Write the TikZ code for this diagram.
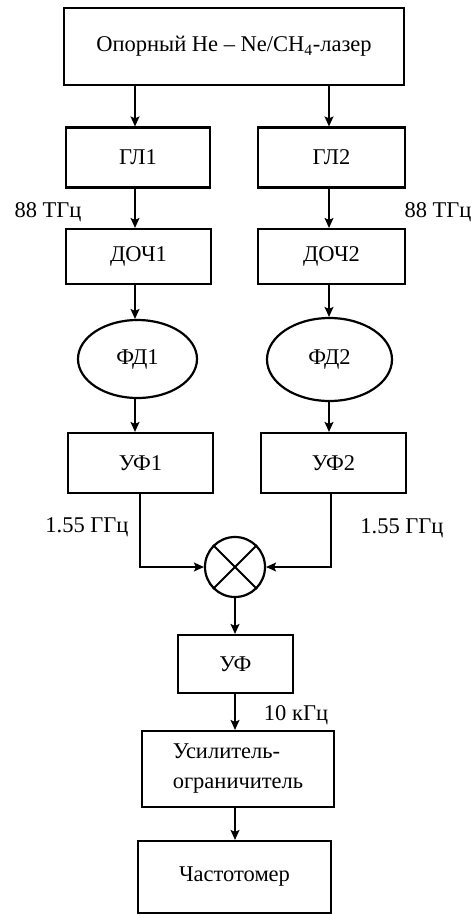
\documentclass[tikz,border=0pt]{standalone}
\usepackage{fontspec}
\setmainfont{Liberation Serif}
\usetikzlibrary{arrows.meta,shapes.geometric}
\begin{document}
\begin{tikzpicture}[x=1pt,y=-1pt,
  font=\rmfamily\fontsize{22.5}{30}\selectfont,
  blk/.style={draw,line width=2.2pt,rectangle,inner sep=0pt,anchor=center},
  ell/.style={draw,line width=2.2pt,ellipse,inner sep=0pt},
  arr/.style={line width=1.3pt,-{Stealth[length=10pt,width=9pt,inset=2pt]}},
  lin/.style={line width=1.3pt},
  lbl/.style={inner sep=0pt,anchor=center}]
\useasboundingbox (0,0) rectangle (476,916);
% boxes
\node[blk,minimum width=340pt,minimum height=77pt] (top) at (234,46.5) {Опорный He -- Ne/CH\textsubscript{4}-лазер};
\node[blk,minimum width=144pt,minimum height=60pt] (gl1) at (138,157.5) {ГЛ1};
\node[blk,minimum width=147pt,minimum height=60pt] (gl2) at (331.5,157.5) {ГЛ2};
\node[blk,minimum width=145pt,minimum height=55pt] (doch1) at (138.5,256.5) {ДОЧ1};
\node[blk,minimum width=147pt,minimum height=55pt] (doch2) at (331.5,256.5) {ДОЧ2};
\node[ell,minimum width=119pt,minimum height=78pt] (fd1) at (137.5,359) {ФД1};
\node[ell,minimum width=125pt,minimum height=83pt] (fd2) at (329.5,359.5) {ФД2};
\node[blk,minimum width=145pt,minimum height=60pt] (uf1) at (140.5,463) {УФ1};
\node[blk,minimum width=145pt,minimum height=60pt] (uf2) at (333.5,463) {УФ2};
\node[draw,circle,line width=2.2pt,minimum size=60pt,inner sep=0pt] (mix) at (235,567) {};
\draw[line width=2pt] (mix.north west) -- (mix.south east);
\draw[line width=2pt] (mix.north east) -- (mix.south west);
\node[blk,minimum width=115pt,minimum height=58pt] (uf) at (235.5,664) {УФ};
\node[blk,minimum width=192pt,minimum height=76pt,align=left] (usil) at (238,769) {Усилитель-\\ограничитель};
\node[blk,minimum width=193pt,minimum height=72pt] (chast) at (234.5,877) {Частотомер};
% column coordinates
\coordinate (c1) at (135,0);
\coordinate (c2) at (329,0);
\coordinate (l1) at (140,0);
\coordinate (l2) at (331,0);
\coordinate (cm) at (235,0);
% connectors
\draw[arr] (top.south -| c1) -- (gl1.north -| c1);
\draw[arr] (top.south -| c2) -- (gl2.north -| c2);
\draw[arr] (gl1.south -| c1) -- (doch1.north -| c1);
\draw[arr] (gl2.south -| c2) -- (doch2.north -| c2);
\draw[arr] (doch1.south -| c1) -- (fd1.north -| c1);
\draw[arr] (doch2.south -| c2) -- (fd2.north -| c2);
\draw[arr] (fd1.south -| c1) -- (uf1.north -| c1);
\draw[arr] (fd2.south -| c2) -- (uf2.north -| c2);
\draw[arr] (uf1.south -| l1) -- (l1 |- mix.west) -- (mix.west);
\draw[arr] (uf2.south -| l2) -- (l2 |- mix.east) -- (mix.east);
\draw[arr] (mix.south -| cm) -- (uf.north -| cm);
\draw[arr] (uf.south -| cm) -- (usil.north -| cm);
\draw[arr] (usil.south -| cm) -- (chast.north -| cm);
% labels
\node[lbl] (f1) at (48,212) {88 ТГц};
\node[lbl] (f2) at (438,212) {88 ТГц};
\node[lbl] (f3) at (87,527) {1.55 ГГц};
\node[lbl] (f4) at (402,528) {1.55 ГГц};
\node[lbl] (f5) at (296,715) {10 кГц};
\end{tikzpicture}
\end{document}
